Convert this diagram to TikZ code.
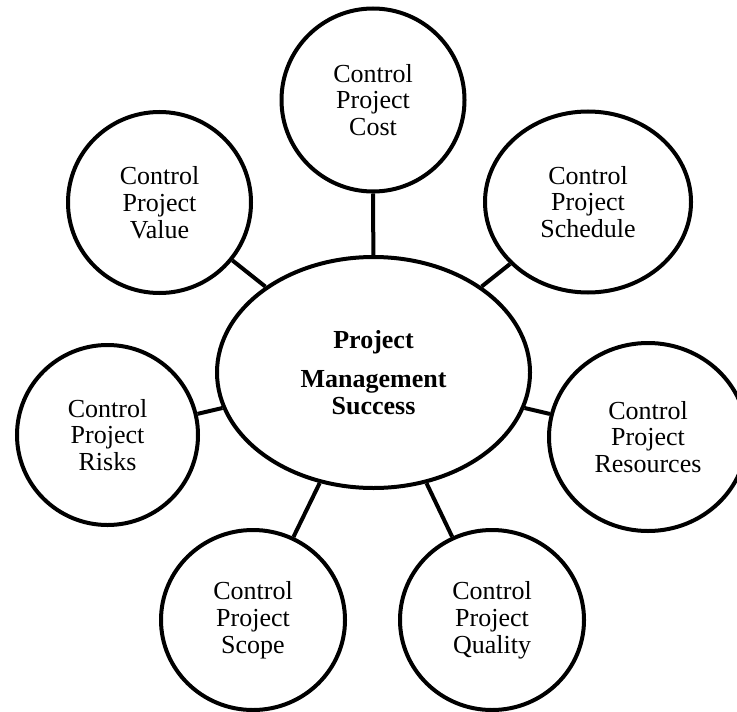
\documentclass[tikz,border=0pt]{standalone}
\usepackage{fontspec}
\setmainfont{Liberation Serif}
\usetikzlibrary{shapes.geometric}
\begin{document}
\begin{tikzpicture}[x=0.5pt,y=-0.5pt,
  bubble/.style={draw=black, line width=2pt, ellipse, inner sep=0pt, align=center,
    font=\fontsize{13}{13.4}\selectfont},
  hub/.style={bubble, font=\fontsize{13}{13.4}\selectfont\bfseries},
  link/.style={line width=2pt, draw=black}]
\useasboundingbox (0,0) rectangle (737,711);
\node[hub, minimum width=156.5pt, minimum height=115.5pt] (pm) at (373.5,372.5) {Project\\[6pt]Management\\Success};
\node[bubble, minimum width=91.5pt, minimum height=91.5pt] (cost) at (373,100) {Control\\Project\\Cost};
\node[bubble, minimum width=91.5pt, minimum height=90.5pt] (value) at (159.5,202.5) {Control\\Project\\Value};
\node[bubble, minimum width=103pt, minimum height=90.5pt] (sched) at (588,202) {Control\\Project\\Schedule};
\node[bubble, minimum width=99pt, minimum height=94pt] (res) at (648,437) {Control\\Project\\Resources};
\node[bubble, minimum width=90.5pt, minimum height=90pt] (risk) at (107.5,435) {Control\\Project\\Risks};
\node[bubble, minimum width=92pt, minimum height=90pt] (scope) at (253,620) {Control\\Project\\Scope};
\node[bubble, minimum width=92pt, minimum height=90pt] (qual) at (492,620) {Control\\Project\\Quality};
\foreach \n in {cost,value,sched,res,risk,scope,qual}
  \draw[link] (pm) -- (\n);
\end{tikzpicture}
\end{document}
